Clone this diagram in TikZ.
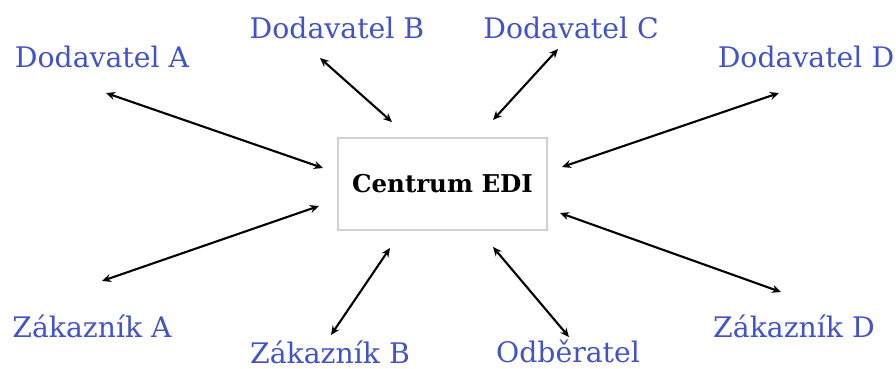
\documentclass[tikz,border=0pt]{standalone}
\usepackage{fontspec}
\setmainfont{DejaVu Serif}
\usetikzlibrary{arrows.meta}
\definecolor{partner}{RGB}{66,82,200}
\definecolor{frame}{RGB}{210,210,210}
\begin{document}
\begin{tikzpicture}[x=1pt,y=-1pt,
  partnerlabel/.style={text=partner,font=\fontsize{28.3}{32}\selectfont,inner sep=0pt},
  hub/.style={draw=frame,line width=2pt,minimum width=209pt,minimum height=92pt,
    font=\bfseries\fontsize{24.5}{28}\selectfont,inner sep=0pt},
  link/.style={{Stealth[length=9pt,width=8pt]}-{Stealth[length=9pt,width=8pt]},line width=2.1pt}]
\useasboundingbox (0,0) rectangle (896,369);
% central node
\node[hub] (edi) at (442.5,184) {Centrum EDI};
% partner labels
\node[partnerlabel] (dA) at (102,57) {Dodavatel A};
\node[partnerlabel] (dB) at (337,28) {Dodavatel B};
\node[partnerlabel] (dC) at (571,28) {Dodavatel C};
\node[partnerlabel] (dD) at (806,57) {Dodavatel D};
\node[partnerlabel] (zA) at (92,326) {Zákazník A};
\node[partnerlabel] (zB) at (330,352) {Zákazník B};
\node[partnerlabel] (od) at (568,351) {Odběratel};
\node[partnerlabel] (zD) at (794,326) {Zákazník D};
% connector ends
\coordinate (pA) at (106,93);   \coordinate (qA) at (323,168);
\coordinate (pB) at (320,58);   \coordinate (qB) at (392,122);
\coordinate (pC) at (558,49);   \coordinate (qC) at (493,120);
\coordinate (pD) at (779,93);   \coordinate (qD) at (562,167);
\coordinate (pzA) at (102,281); \coordinate (qzA) at (319,206);
\coordinate (pzB) at (331,335); \coordinate (qzB) at (390,248);
\coordinate (pod) at (569,337); \coordinate (qod) at (493,247);
\coordinate (pzD) at (781,292); \coordinate (qzD) at (560,213);
% two-way links
\draw[link] (pA) -- (qA);
\draw[link] (pB) -- (qB);
\draw[link] (pC) -- (qC);
\draw[link] (pD) -- (qD);
\draw[link] (pzA) -- (qzA);
\draw[link] (pzB) -- (qzB);
\draw[link] (pod) -- (qod);
\draw[link] (pzD) -- (qzD);
\end{tikzpicture}
\end{document}
